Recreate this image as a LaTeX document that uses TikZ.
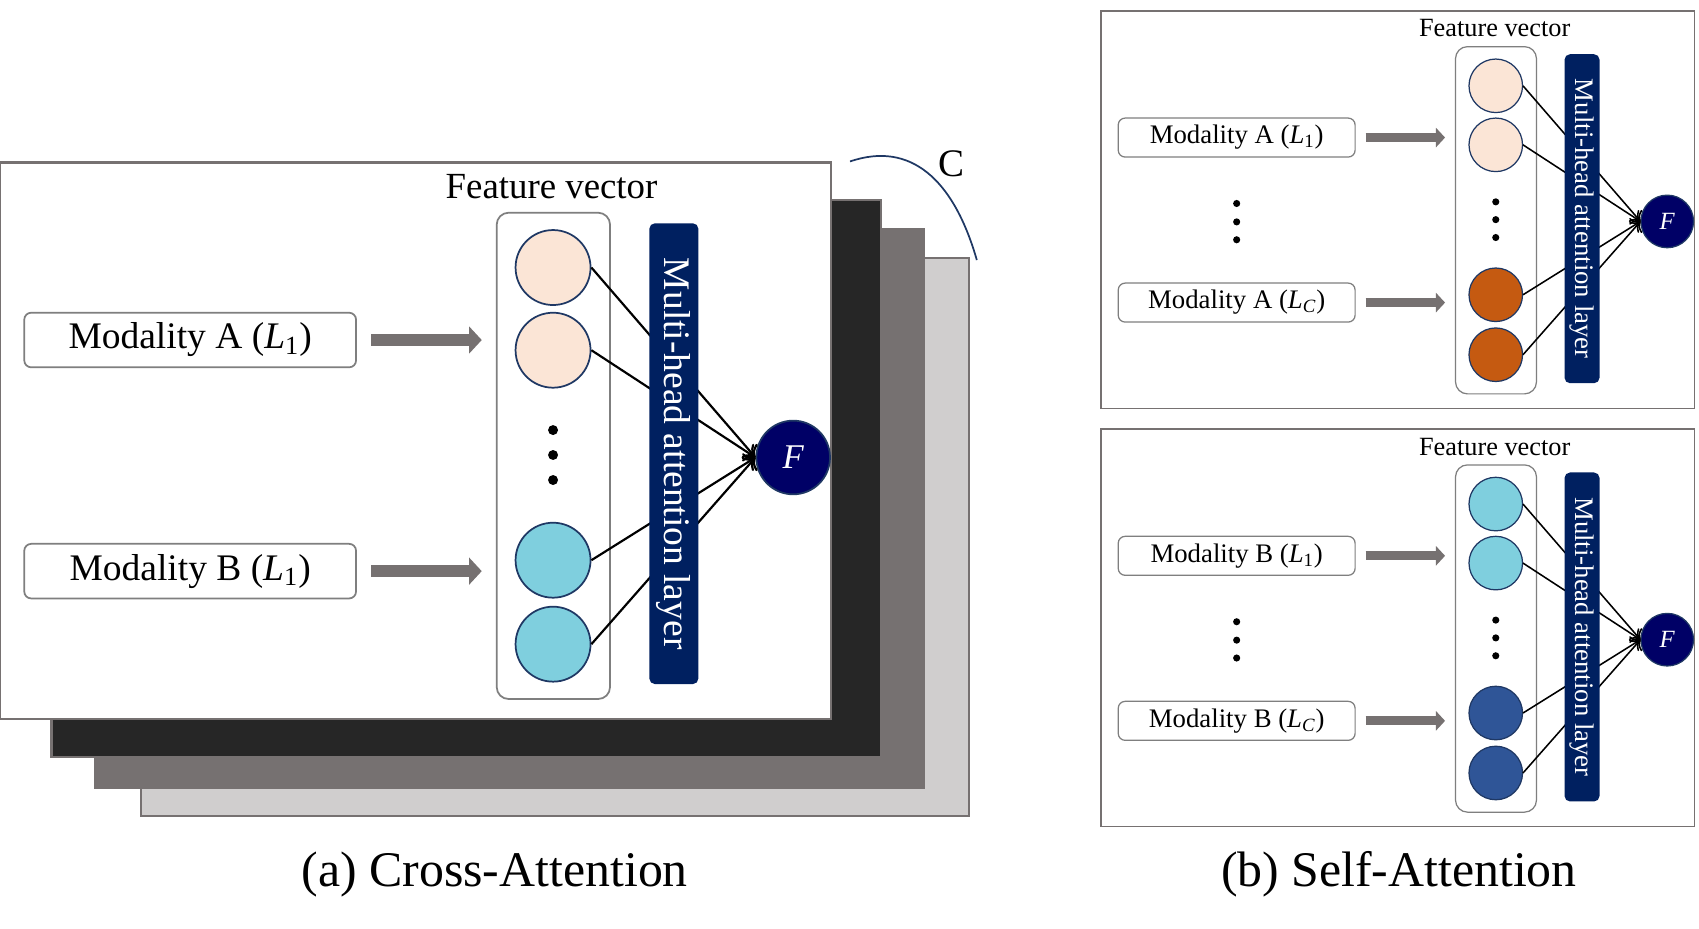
\documentclass[tikz,border=0pt]{standalone}
\usepackage{fontspec}
\setmainfont{Liberation Serif}
\usetikzlibrary{arrows.meta}

\definecolor{panelgray}{HTML}{767171}
\definecolor{boxgray}{HTML}{7F7F7F}
\definecolor{stackdark}{HTML}{262626}
\definecolor{stacklight}{HTML}{D0CECE}
\definecolor{peach}{HTML}{FBE5D6}
\definecolor{cyanish}{HTML}{7FCFDE}
\definecolor{rust}{HTML}{C55A11}
\definecolor{steelblue}{HTML}{2F5597}
\definecolor{barnavy}{HTML}{002060}
\definecolor{fnavy}{HTML}{000066}
\definecolor{rim}{HTML}{1F3864}

\newcommand{\Lsub}[1]{\textit{L}\textsubscript{#1}}

\begin{document}
\begin{tikzpicture}
[x=0.5pt,y=-0.5pt,
  stack/.style={draw=panelgray,line width=1pt},
  panel/.style={draw=panelgray,fill=white,line width=\scl*1pt},
  fvbox/.style={draw=boxgray,line width=\scl*0.8pt,rounded corners=5.5pt,
    minimum width=52.3pt,minimum height=224.4pt,inner sep=0pt},
  feat/.style={circle,draw=rim,line width=\scl*0.8pt,minimum size=34.6pt,inner sep=0pt},
  fnode/.style={circle,draw=rim,fill=fnavy,text=white,line width=\scl*0.8pt,
    minimum size=34pt,inner sep=0pt,font=\fontsize{16}{18}\selectfont\itshape},
  attn/.style={fill=barnavy,rounded corners=2.5pt,rotate=-90,minimum width=212.6pt,
    minimum height=22.6pt,inner sep=0pt,text=white,font=\fontsize{17.3}{20}\selectfont},
  modbox/.style={draw=boxgray,line width=\scl*0.8pt,rounded corners=3.2pt,
    minimum width=153.1pt,minimum height=25.2pt,inner sep=0pt,font=\fontsize{17.3}{20}\selectfont},
  link/.style={-{To[scale=1.2]},line width=\scl*1pt},
  blockarrow/.style={draw=panelgray,line width=\scl*5.7pt,-{Triangle[length=0pt 1.03,width=0pt 2.16]}},
  title/.style={font=\fontsize{17}{20}\selectfont,anchor=base},
  caption/.style={font=\fontsize{23}{27}\selectfont,anchor=base}]
\useasboundingbox (0,0) rectangle (1568,857);

% C stacked layers behind the cross-attention panel
\draw[stack,fill=stacklight] (129.8,238.4) rectangle (894.3,752.8);
\draw[stack,fill=panelgray] (87.5,211.7) rectangle (853,727);
\draw[stack,fill=stackdark] (47.6,184.6) rectangle (813,698.4);
\draw[rim,line width=0.8pt] (784.5,149) .. controls (840,130) and (880,165) .. (901.5,240);
\node[font=\fontsize{18}{20}\selectfont] (clabel) at (878,151) {C};

% one panel each: cross-attention, self-attention A, self-attention B
\foreach \p/\px/\py/\scl/\topl/\botl/\ct/\cb/\dt in
  {a/0/150/1/{A (\Lsub{1})}/{B (\Lsub{1})}/peach/cyanish/0,
   b/1016/10/0.714/{A (\Lsub{1})}/{A (\Lsub{\textit{C}})}/peach/rust/1,
   c/1016/396/0.714/{B (\Lsub{1})}/{B (\Lsub{\textit{C}})}/cyanish/steelblue/1}
{
\begin{scope}[shift={(\px,\py)},scale=\scl,transform shape]
  \draw[panel] (0,0) rectangle (767,513.9);
  \node[title] (\p title) at (509,33.5) {Feature vector};
  \node[fvbox] (\p fv) at (510.7,270.7) {};
  \foreach \i/\y/\col in {1/96.9/\ct,2/173.2/\ct,3/367/\cb,4/444.5/\cb}
    \node[feat,fill=\col] (\p c\i) at (510.4,\y) {};
  \foreach \y in {246.9,269.9,293}
    \fill (510.4,\y) circle (2.3pt);
  \node[fnode] (\p F) at (732,272.2) {F};
  \foreach \i in {1,...,4}
    \draw[link] (\p c\i.east) -- (\p F.west);
  \node[attn] (\p bar) at (621.9,268.7) {Multi-head attention layer};
  \node[modbox] (\p ma) at (175.5,163.8) {Modality \topl};
  \node[modbox] (\p mb) at (175.5,377.1) {Modality \botl};
  \draw[blockarrow] ([xshift=6.5pt]\p ma.east) -- ([xshift=-6.5pt]\p fv.west |- \p ma.east);
  \draw[blockarrow] ([xshift=6.5pt]\p mb.east) -- ([xshift=-6.5pt]\p fv.west |- \p mb.east);
  \ifnum\dt=1
    \foreach \y in {249,272.8,295.9}
      \fill (175.5,\y) circle (2.3pt);
  \fi
\end{scope}
}

\node[caption] (capa) at (456.6,818) {(a) Cross-Attention};
\node[caption] (capb) at (1291,818) {(b) Self-Attention};
\end{tikzpicture}
\end{document}
